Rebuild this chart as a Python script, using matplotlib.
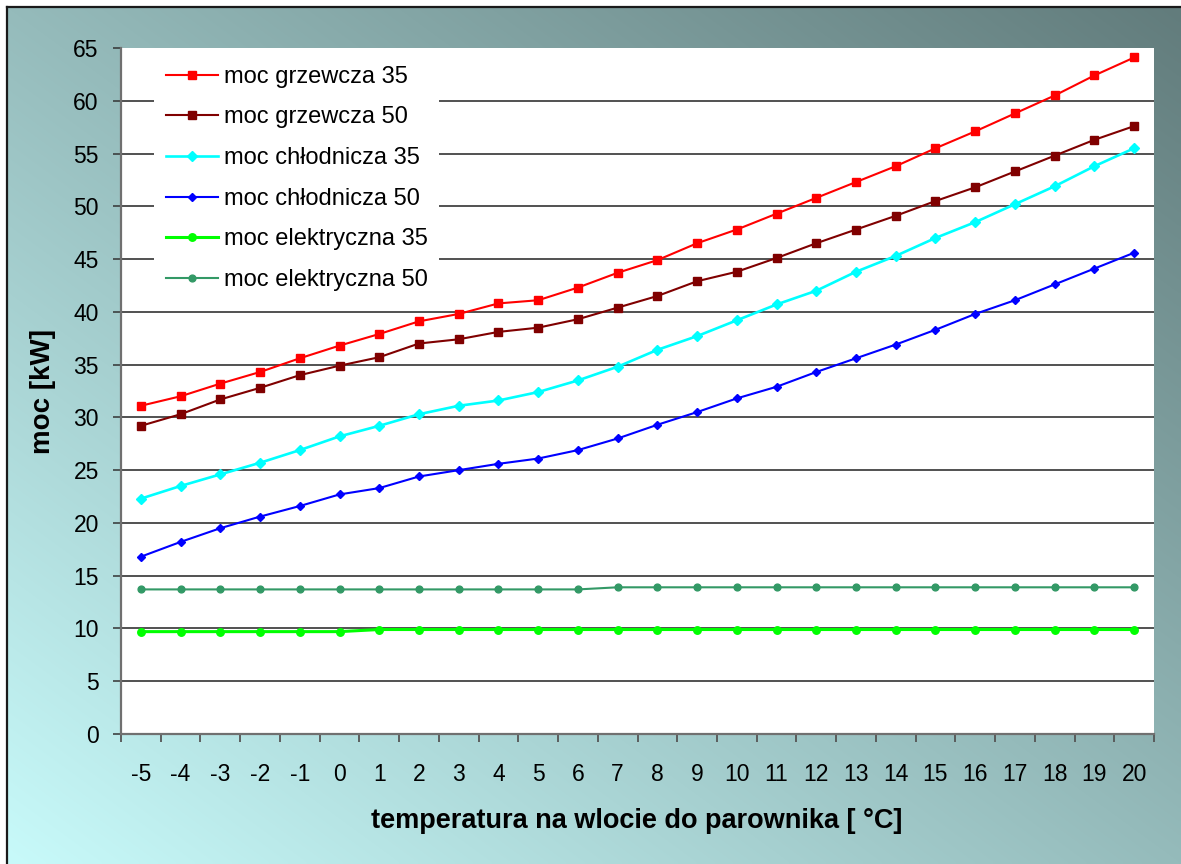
import numpy as np
import matplotlib
matplotlib.use("Agg")
import matplotlib.pyplot as plt

plt.rcParams['font.family'] = ['Liberation Sans', 'DejaVu Sans']

# evaporator inlet temperature [°C]
temps = [-5, -4, -3, -2, -1, 0, 1, 2, 3, 4, 5, 6, 7, 8, 9, 10,
         11, 12, 13, 14, 15, 16, 17, 18, 19, 20]

# capacities [kW]
heat_35 = [31.1, 32.0, 33.2, 34.3, 35.6, 36.8, 37.9, 39.1, 39.8, 40.8, 41.1, 42.3, 43.7,
           44.9, 46.5, 47.8, 49.3, 50.8, 52.3, 53.8, 55.5, 57.1, 58.8, 60.5, 62.4, 64.1]
heat_50 = [29.2, 30.3, 31.7, 32.8, 34.0, 34.9, 35.7, 37.0, 37.4, 38.1, 38.5, 39.3, 40.4,
           41.5, 42.9, 43.8, 45.1, 46.5, 47.8, 49.1, 50.5, 51.8, 53.3, 54.8, 56.3, 57.6]
cool_35 = [22.3, 23.5, 24.6, 25.7, 26.9, 28.2, 29.2, 30.3, 31.1, 31.6, 32.4, 33.5, 34.8,
           36.4, 37.7, 39.2, 40.7, 42.0, 43.8, 45.3, 47.0, 48.5, 50.2, 51.9, 53.8, 55.5]
cool_50 = [16.8, 18.2, 19.5, 20.6, 21.6, 22.7, 23.3, 24.4, 25.0, 25.6, 26.1, 26.9, 28.0,
           29.3, 30.5, 31.8, 32.9, 34.3, 35.6, 36.9, 38.3, 39.8, 41.1, 42.6, 44.1, 45.6]
elec_35 = [9.7, 9.7, 9.7, 9.7, 9.7, 9.7, 9.9, 9.9, 9.9, 9.9, 9.9, 9.9, 9.9,
           9.9, 9.9, 9.9, 9.9, 9.9, 9.9, 9.9, 9.9, 9.9, 9.9, 9.9, 9.9, 9.9]
elec_50 = [13.7, 13.7, 13.7, 13.7, 13.7, 13.7, 13.7, 13.7, 13.7, 13.7, 13.7, 13.7, 13.9,
           13.9, 13.9, 13.9, 13.9, 13.9, 13.9, 13.9, 13.9, 13.9, 13.9, 13.9, 13.9, 13.9]

series_labels = ["moc grzewcza 35", "moc grzewcza 50", "moc chłodnicza 35",
                 "moc chłodnicza 50", "moc elektryczna 35", "moc elektryczna 50"]
y_ticks = [0, 5, 10, 15, 20, 25, 30, 35, 40, 45, 50, 55, 60, 65]

W, H, DPI = 1181, 864, 100
fig = plt.figure(figsize=(W / DPI, H / DPI), dpi=DPI, facecolor="white")

# chart area with a diagonal gradient (light cyan bottom-left -> slate top-right)
bg = fig.add_axes([7 / W, 0, 1 - 7 / W, 1 - 7 / H], zorder=0)
nx, ny = 300, 220
gx = np.linspace(0, 1, nx)[None, :]
gy = np.linspace(0, 1, ny)[:, None]
t = np.clip((gx + gy) / 2.0, 0, 1)
c0 = np.array([200, 250, 250]) / 255.0
c1 = np.array([98, 124, 124]) / 255.0
img = c0[None, None, :] * (1 - t[..., None]) + c1[None, None, :] * t[..., None]
bg.imshow(img, origin="lower", extent=[0, 1, 0, 1], aspect="auto", interpolation="bilinear")
bg.set_xlim(0, 1)
bg.set_ylim(0, 1)
bg.set_xticks([])
bg.set_yticks([])
for side in ("right", "bottom"):
    bg.spines[side].set_visible(False)
for side in ("left", "top"):
    bg.spines[side].set_color("#1a1a1a")
    bg.spines[side].set_linewidth(1.6)

# plot area
ax = fig.add_axes([121 / W, 1 - 734 / H, (1154 - 121) / W, (734 - 48) / H], zorder=1)
ax.set_facecolor("white")
x = np.arange(len(temps))

for yv in y_ticks[1:-1]:
    ax.axhline(yv, color="#333333", lw=1.2, zorder=1)

styles = [
    (heat_35, "#FF0000", "s", 5.6, 1.5),
    (heat_50, "#800000", "s", 5.6, 1.5),
    (cool_35, "#00FFFF", "D", 5.4, 1.9),
    (cool_50, "#0000FF", "D", 3.9, 1.5),
    (elec_35, "#00FF00", "o", 5.4, 2.2),
    (elec_50, "#339966", "o", 4.9, 1.5),
]
handles = []
for (vals, col, mk, ms, lw), lab in zip(styles, series_labels):
    h, = ax.plot(x, vals, color=col, marker=mk, markersize=ms, lw=lw,
                 markeredgecolor=col, markerfacecolor=col, zorder=3, label=lab)
    handles.append(h)

ax.set_xlim(-0.5, len(temps) - 0.5)
ax.set_ylim(0, 65)
ax.set_yticks(y_ticks)
ax.set_yticklabels([str(v) for v in y_ticks], fontsize=16.5)
ax.set_xticks(x)
ax.set_xticklabels([str(v) for v in temps], fontsize=16.5)
ax.set_xticks(np.arange(len(temps) + 1) - 0.5, minor=True)
ax.tick_params(axis="x", which="major", length=0, pad=21)
ax.tick_params(axis="x", which="minor", length=6, width=1.3, color="#555555", direction="out")
ax.tick_params(axis="y", which="major", length=6, width=1.1, color="#333333",
               direction="out", pad=10)
for side in ("top", "right"):
    ax.spines[side].set_visible(False)
for side in ("left", "bottom"):
    ax.spines[side].set_color("#707070")
    ax.spines[side].set_linewidth(1.6)

leg = ax.legend(handles=handles, loc="upper left",
                bbox_to_anchor=(154 / W, 1 - 54 / H), bbox_transform=fig.transFigure,
                fontsize=17, frameon=True, fancybox=False, framealpha=1.0,
                facecolor="white", edgecolor="none", handlelength=2.2,
                handletextpad=0.25, labelspacing=0.79, borderpad=0.5, borderaxespad=0)
leg.set_zorder(5)

fig.text(43 / W, 1 - 392 / H, "moc [kW]", rotation=90, fontsize=20, fontweight="bold",
         ha="center", va="center")
fig.text(637 / W, 1 - 821 / H, "temperatura na wlocie do parownika [ °C]", fontsize=19.5,
         fontweight="bold", ha="center", va="center")

fig.savefig("out.png", dpi=DPI, facecolor="white")
